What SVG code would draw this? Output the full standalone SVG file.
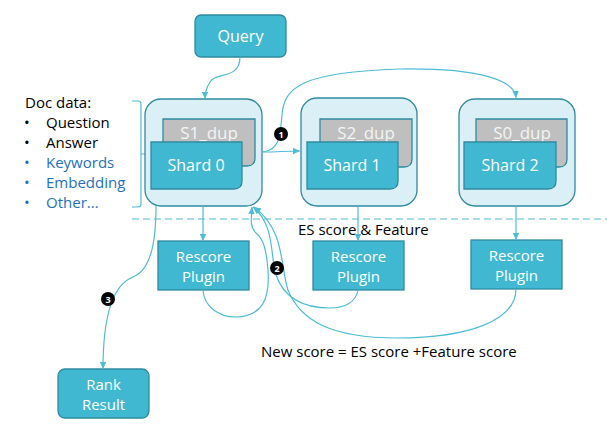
<svg xmlns="http://www.w3.org/2000/svg" width="607" height="430" viewBox="0 0 607 430">
<style>
.node{fill:#41B8D1;stroke:#2F8AA0;stroke-width:1.3}
.grp{fill:#DAF0F6;stroke:#2F8AA0;stroke-width:1.3}
.dup{fill:#BFBFBF;stroke:#2F8AA0;stroke-width:1.3}
.wt{font-family:"Open Sans","Noto Sans",sans-serif;fill:#fff;text-anchor:middle;font-size:15px}
.dt{font-family:"Open Sans","Noto Sans",sans-serif;fill:#F4F4F4;text-anchor:middle;font-size:17px}
.bt{font-family:"Open Sans","Noto Sans",sans-serif;fill:#000;font-size:15px}
.blue{fill:#1E70C0}
.con{fill:none;stroke:#4DBDD6;stroke-width:1.2}
.badge{fill:#000}
.bn{font-family:"Open Sans","Noto Sans",sans-serif;fill:#fff;font-size:9px;font-weight:bold;text-anchor:middle}
</style>
<defs>
<marker id="ah" markerWidth="8" markerHeight="8" refX="7" refY="4" orient="auto" markerUnits="userSpaceOnUse">
<path d="M0,0.8 L7,4 L0,7.2 Z" fill="#4DBDD6"/>
</marker>
</defs>

<g id="doc-data">
<text class="bt" x="25" y="108">Doc data:</text>
<text class="bt" x="24" y="128">•</text><text class="bt" x="46" y="128">Question</text>
<text class="bt" x="24" y="148">•</text><text class="bt" x="46" y="148">Answer</text>
<text class="bt blue" x="24" y="168">•</text><text class="bt blue" x="46" y="168">Keywords</text>
<text class="bt blue" x="24" y="188">•</text><text class="bt blue" x="46" y="188">Embedding</text>
<text class="bt blue" x="24" y="208">•</text><text class="bt blue" x="46" y="208">Other...</text>
<path class="con" d="M132,101 L138,101 Q141,101 141,104 L141,204 Q141,207 138,207 L132,207 M141,154 L151,154"/>
</g>

<g id="query">
<rect class="node" x="195" y="15" width="91" height="42" rx="6"/>
<text class="wt" x="240.5" y="42" style="font-size:16px">Query</text>
</g>

<g id="shard-group-0">
<rect class="grp" x="145" y="99" width="117" height="107" rx="16"/>
<path class="dup" d="M163,119 H255 V158 Q255,166 247,166 H163 Z"/>
<text class="dt" x="209" y="139">S1_dup</text>
<path class="node" d="M151,142 H242 V181 Q242,189 234,189 H151 Z"/>
<text class="wt" x="196" y="171" style="font-size:16px">Shard 0</text>
</g>

<g id="shard-group-1">
<rect class="grp" x="301" y="98" width="116" height="108" rx="16"/>
<path class="dup" d="M320,119 H412 V159 Q412,167 404,167 H320 Z"/>
<text class="dt" x="366" y="139">S2_dup</text>
<path class="node" d="M307,142 H398 V181 Q398,189 390,189 H307 Z"/>
<text class="wt" x="352" y="171" style="font-size:16px">Shard 1</text>
</g>

<g id="shard-group-2">
<rect class="grp" x="459" y="99" width="116" height="107" rx="16"/>
<path class="dup" d="M476,119 H567 V159 Q567,167 559,167 H476 Z"/>
<text class="dt" x="522" y="139">S0_dup</text>
<path class="node" d="M464,142 H556 V181 Q556,189 548,189 H464 Z"/>
<text class="wt" x="510" y="171" style="font-size:16px">Shard 2</text>
</g>

<g id="separator">
<line x1="132" y1="219" x2="607" y2="219" stroke="#4DBDD6" stroke-width="1.2" stroke-dasharray="7,4"/>
<text class="bt" x="298" y="235">ES score &amp; Feature</text>
</g>

<g id="rescore-0">
<rect class="node" x="158" y="241" width="91" height="49"/>
<text class="wt" x="203.5" y="262">Rescore</text>
<text class="wt" x="203.5" y="282">Plugin</text>
</g>
<g id="rescore-1">
<rect class="node" x="313" y="241" width="91" height="49"/>
<text class="wt" x="358.5" y="262">Rescore</text>
<text class="wt" x="358.5" y="282">Plugin</text>
</g>
<g id="rescore-2">
<rect class="node" x="471" y="240" width="91" height="49"/>
<text class="wt" x="516.5" y="261">Rescore</text>
<text class="wt" x="516.5" y="281">Plugin</text>
</g>

<g id="rank-result">
<rect class="node" x="58" y="369" width="91" height="49" rx="7"/>
<text class="wt" x="103.5" y="390">Rank</text>
<text class="wt" x="103.5" y="410">Result</text>
</g>

<text class="bt" x="261" y="357">New score = ES score +Feature score</text>

<g id="connectors">
<path class="con" marker-end="url(#ah)" d="M240,57 C240,80 215,72 210,82 C206,88 205,92 205,99"/>
<path class="con" marker-end="url(#ah)" d="M263,152 C278,152 285,151 300,151"/>
<path class="con" marker-end="url(#ah)" d="M263,152 C280,150 280,135 282,115 C284,88 300,72 400,69 C480,68 515,80 516,98"/>
<path class="con" marker-end="url(#ah)" d="M203,206 L203,241"/>
<path class="con" marker-end="url(#ah)" d="M358,206 L358,241"/>
<path class="con" marker-end="url(#ah)" d="M516,206 L516,240"/>
<path class="con" marker-end="url(#ah)" d="M203,290 C204,306 218,317 236,317 C262,316 270,300 268,270 C266,245 262,238 256,233 C250,227 251,220 252,207"/>
<path class="con" marker-end="url(#ah)" d="M358,290 C356,302 345,308 330,308 C300,308 283,295 276,275 C270,255 275,225 253,207"/>
<path class="con" marker-end="url(#ah)" d="M516,289 C516,320 470,338 397,338 C330,338 300,320 288,290 C280,265 285,230 254,207"/>
<path class="con" marker-end="url(#ah)" d="M156,206 C156,245 150,270 133,277 C112,285 103,320 103,369"/>
</g>

<g id="badges">
<circle class="badge" cx="281" cy="134" r="7"/><text class="bn" x="281" y="137.5">1</text>
<circle class="badge" cx="277" cy="268" r="7"/><text class="bn" x="277" y="271.5">2</text>
<circle class="badge" cx="108" cy="299" r="7"/><text class="bn" x="108" y="302.5">3</text>
</g>
</svg>
